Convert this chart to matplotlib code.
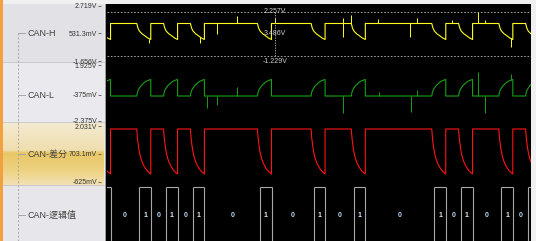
import numpy as np
import matplotlib
matplotlib.use('Agg')
import matplotlib.pyplot as plt
from matplotlib.patches import Rectangle

# ---------------- data ----------------
channel_names = ["CAN-H", "CAN-L", "CAN-差分", "CAN-逻辑值"]

# decoded logic bits (first entry is bit index -3, partly off-screen)
bits = [1, 0, 0, 1, 0, 1, 0, 1, 0, 0, 0, 0, 1, 0, 0, 0, 1, 0, 0, 1,
        0, 0, 0, 0, 0, 1, 0, 1, 0, 0, 1, 0, 1]
first_bit = -3

# waveform shape during one recessive bit (time in bit periods since edge)
prof_t = [0, 0.037, 0.075, 0.149, 0.224, 0.298, 0.410, 0.522, 0.671, 0.820, 1.044]
canh_prof = [1.311, 1.153, 0.994, 0.797, 0.678, 0.599, 0.480, 0.401, 0.282, 0.164, 0.045]
canl_prof = [-0.467, -0.233, -0.077, 0.079, 0.196, 0.312, 0.429, 0.546, 0.663, 0.741, 0.819]
diff_prof = [1.888, 1.554, 1.316, 0.958, 0.696, 0.505, 0.291, 0.148, -0.019, -0.138, -0.258]

# noise spikes (time in bits, peak value V)
canh_spike_t = [0.746, 4.527, 5.772, 7.263, 10.12, 15.17, 15.17, 15.76, 17.80, 20.18,
                20.71, 23.30, 25.28, 25.78, 27.70]
canh_spike_v = [-0.232, -0.232, 0.480, 1.904, 1.746, 0.243, 1.746, 1.983, 1.667, 0.243,
                1.746, 1.588, 2.221, 1.588, -0.548]
canl_spike_t = [5.026, 5.772, 7.263, 15.17, 17.87, 20.24, 20.73, 25.28, 25.78, 27.70]
canl_spike_v = [-1.425, -1.168, 0.235, -1.767, -0.155, -1.690, 0.001, 1.403, -1.767, 1.247]

# axis ranges and tick labels
canh_range = (-1.656, 2.719)
canh_ticks = [2.719, 0.5313, -1.656]
canh_ticklabels = ["2.719V", "531.3mV", "-1.656V"]
canl_range = (-2.375, 1.925)
canl_ticks = [1.925, -0.375, -2.375]
canl_ticklabels = ["1.925V", "-375mV", "-2.375V"]
diff_range = (-0.625, 2.031)
diff_ticks = [2.031, 0.7031, -0.625]
diff_ticklabels = ["2.031V", "703.1mV", "-625mV"]

cursor_levels = [2.257, -1.229]
cursor_labels = ["2.257V", "-1.229V"]
cursor_delta_label = "3.486V"
cursor_t = 10.12

# ---------------- layout ----------------
W, H = 536, 241
xmin, xmax = -2.41, 29.21
rec_offset = -0.19
box_w = 0.86
FONT = ['Liberation Sans', 'Noto Sans CJK SC', 'DejaVu Sans']
plt.rcParams['font.family'] = FONT

fig = plt.figure(figsize=(W / 100, H / 100), dpi=100)
fig.patch.set_facecolor('#f0f0f0')

bg = fig.add_axes([0, 0, 1, 1])
bg.axis('off')
bg.add_patch(Rectangle((0, 0), 3, H, color='#f2a040', lw=0))
bg.add_patch(Rectangle((3, 4), 101, 58, color='#e2e2e6', lw=0))
bg.add_patch(Rectangle((3, 62), 101, 60, color='#eaeaee', lw=0))
bg.add_patch(Rectangle((3, 185), 101, 56, color='#e6e6eb', lw=0))
# gold gradient for selected channel row
stops_y = [122, 150, 153, 170, 185]
stops_c = [(0.955, 0.92, 0.82), (0.94, 0.87, 0.68), (0.91, 0.78, 0.40),
           (0.93, 0.82, 0.50), (0.95, 0.88, 0.70)]
yy = np.linspace(122, 185, 64)
grad = np.stack([np.interp(yy, stops_y, [c[i] for c in stops_c]) for i in range(3)], axis=-1)
bg.imshow(grad[:, None, :], extent=(3, 104, 185, 122), aspect='auto', zorder=1)
for yl in (62, 122, 185):
    bg.plot([3, 104], [yl, yl], color='#c4c4c4', lw=0.6, zorder=2)
bg.plot([104.5, 104.5], [4, H], color='#9a9a9a', lw=0.8, zorder=2)
bg.add_patch(Rectangle((106, 4), 425, H - 4, color='#000000', lw=0, zorder=2))

label_y = [33, 95, 154, 215]
bg.plot([18, 18], [33, H], color='#a8a8a8', lw=0.7, ls=(0, (2, 2)), zorder=3)
for name, y in zip(channel_names, label_y):
    bg.plot([18, 25], [y, y], color='#a8a8a8', lw=0.7, zorder=3)
    bg.text(27, y, name, ha='left', va='center', fontsize=6.5, color='#404040',
            family=FONT, zorder=4)
bg.set_xlim(0, W)
bg.set_ylim(H, 0)


def make_ax(top, bottom, yr):
    ax = fig.add_axes([107 / W, 1 - bottom / H, 424 / W, (bottom - top) / H])
    ax.set_xlim(xmin, xmax)
    ax.set_ylim(*yr)
    ax.patch.set_alpha(0)
    for s in ax.spines.values():
        s.set_visible(False)
    ax.set_xticks([])
    ax.spines['left'].set_position(('outward', 4))
    ax.tick_params(axis='y', length=2.2, width=0.6, color='#555555', pad=1,
                   labelsize=5, labelcolor='#333333')
    return ax


ks = np.arange(first_bit, first_bit + len(bits))
pt = np.array(prof_t)


def build(prof):
    xs = [xmin - 1]
    ys = [prof[0]]
    for k, b in zip(ks, bits):
        if b:
            t0 = k + rec_offset
            xs.extend(t0 + pt)
            ys.extend(prof)
            xs.append(t0 + pt[-1])
            ys.append(prof[0])
    xs.append(xmax + 1)
    ys.append(prof[0])
    return np.array(xs), np.array(ys)


# CAN-H
axh = make_ax(5.7, 61, canh_range)
axh.set_yticks(canh_ticks, canh_ticklabels)
xs, ys = build(canh_prof)
axh.plot(xs, ys, color='#ffff1e', lw=0.8)
axh.vlines(canh_spike_t, np.interp(canh_spike_t, xs, ys), canh_spike_v, color='#ffff1e', lw=0.7)
for lv in cursor_levels:
    axh.axhline(lv, color='#b8b8b8', lw=0.6, ls=(0, (2, 2)))
axh.plot([cursor_t, cursor_t], cursor_levels, color='#b8b8b8', lw=0.6, ls=(0, (1.5, 1.5)))
axh.text(cursor_t, cursor_levels[0], cursor_labels[0], ha='center', va='center',
         fontsize=5, color='#d0d0d0')
axh.text(cursor_t, sum(cursor_levels) / 2 + 0.02, cursor_delta_label, ha='center', va='center',
         fontsize=5, color='#d0d0d0')
axh.text(cursor_t, -1.711, cursor_labels[1], ha='center', va='center',
         fontsize=5, color='#d0d0d0', clip_on=False)

# CAN-L
axl = make_ax(65.3, 120.5, canl_range)
axl.set_yticks(canl_ticks, canl_ticklabels)
xs, ys = build(canl_prof)
axl.plot(xs, ys, color='#18a018', lw=0.8)
axl.vlines(canl_spike_t, np.interp(canl_spike_t, xs, ys), canl_spike_v, color='#18a018', lw=0.7)

# differential
axd = make_ax(126, 181.7, diff_range)
axd.set_yticks(diff_ticks, diff_ticklabels)
xs, ys = build(diff_prof)
axd.plot(xs, ys, color='#ff1414', lw=0.8)

# logic
axg = make_ax(185, 241, (0, 1.043))
axg.set_yticks([])
ones = [k for k, b in zip(ks, bits) if b]
for k in ones:
    axg.vlines([k, k + box_w], -0.1, 1, color='#a8a8a8', lw=0.8)
    axg.hlines(1, k, k + box_w, color='#a8a8a8', lw=0.8)
    axg.text(k + box_w / 2, 0.48, '1', ha='center', va='center', fontsize=5,
             fontweight='bold', color='#d8e6f8', clip_on=True)
for k1, k2 in zip(ones[:-1], ones[1:]):
    if k2 - k1 > 1:
        axg.text((k1 + box_w + k2) / 2, 0.48, '0', ha='center', va='center', fontsize=5,
                 fontweight='bold', color='#b8d4f4', clip_on=True)

fig.savefig('out.png', dpi=100, facecolor=fig.get_facecolor())
